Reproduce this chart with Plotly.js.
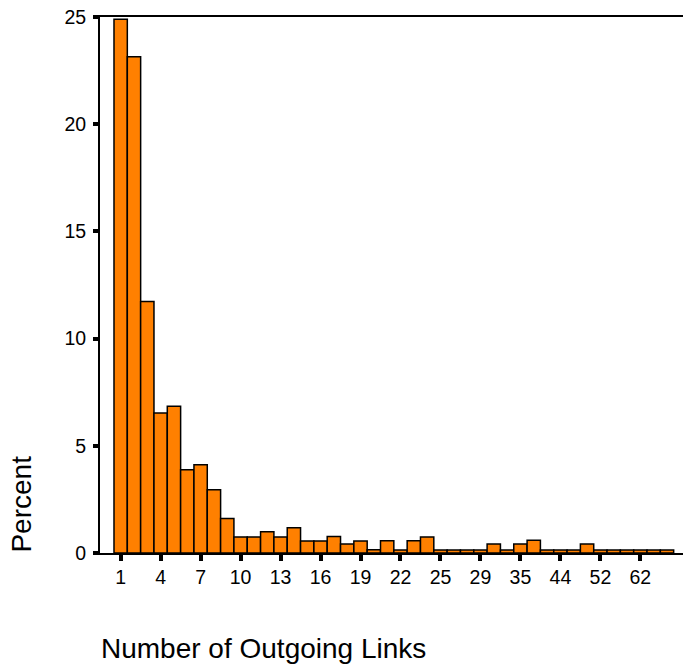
<!DOCTYPE html>
<html>
<head>
<meta charset="utf-8">
<script src="https://cdn.plot.ly/plotly-3.0.1.min.js"></script>
<style>
html, body { margin: 0; padding: 0; background: #ffffff; }
#chart { width: 683px; height: 666px; }
</style>
</head>
<body>
<div id="chart"></div>
<script>
// Categories (number of outgoing links)
const categories = ["1","2","3","4","5","6","7","8","9","10","11","12","13","14","15","16","17","18","19","20","21","22","23","24","25","26","28","29","31","33","35","37","40","44","47","49","52","55","58","62","68","80"];
// Percent of pages per category
const percentValues = [24.9, 23.15, 11.73, 6.53, 6.84, 3.88, 4.12, 2.95, 1.61, 0.75, 0.75, 0.99, 0.75, 1.18, 0.56, 0.56, 0.77, 0.42, 0.56, 0.15, 0.57, 0.14, 0.57, 0.75, 0.14, 0.14, 0.14, 0.14, 0.42, 0.14, 0.42, 0.6, 0.14, 0.14, 0.14, 0.42, 0.14, 0.14, 0.14, 0.14, 0.14, 0.14];
// Labelled tick categories
const xTickLabels = ["1","4","7","10","13","16","19","22","25","29","35","44","52","62"];
const yTickValues = [0, 5, 10, 15, 20, 25];

const font = "Liberation Sans, Arial, sans-serif";

const trace = {
  type: "bar",
  x: categories,
  y: percentValues,
  marker: { color: "#ff8000", line: { color: "#000000", width: 1.5 } },
  hoverinfo: "x+y"
};

const layout = {
  width: 683,
  height: 666,
  margin: { l: 100, r: 0, t: 17, b: 113 },
  paper_bgcolor: "#ffffff",
  plot_bgcolor: "#ffffff",
  bargap: 0,
  showlegend: false,
  font: { family: font, size: 19, color: "#000000" },
  xaxis: {
    type: "category",
    range: [-1.55, 42.2],
    tickmode: "array",
    tickvals: xTickLabels,
    ticktext: xTickLabels,
    ticks: "outside",
    ticklen: 6,
    tickwidth: 4,
    tickcolor: "#000000",
    showline: true,
    linecolor: "#000000",
    linewidth: 2,
    mirror: true,
    showgrid: false,
    zeroline: false,
    tickfont: { family: font, size: 19.5, color: "#000000" }
  },
  yaxis: {
    range: [0, 25],
    tickmode: "array",
    tickvals: yTickValues,
    ticks: "outside",
    ticklen: 5,
    tickwidth: 4,
    tickcolor: "#000000",
    showline: true,
    linecolor: "#000000",
    linewidth: 2,
    showgrid: false,
    zeroline: false,
    ticklabelstandoff: 3,
    tickfont: { family: font, size: 19.5, color: "#000000" }
  },
  annotations: [
    {
      text: "Percent",
      textangle: -90,
      xref: "paper", yref: "paper",
      x: -0.134, y: 0.092,
      xanchor: "center", yanchor: "middle",
      showarrow: false,
      font: { family: font, size: 28, color: "#000000" }
    },
    {
      text: "Number of Outgoing Links",
      xref: "paper", yref: "paper",
      x: 0.28, y: -0.178,
      xanchor: "center", yanchor: "middle",
      showarrow: false,
      font: { family: font, size: 28, color: "#000000" }
    }
  ]
};

Plotly.newPlot("chart", [trace], layout, { displayModeBar: false, staticPlot: true });
</script>
</body>
</html>
